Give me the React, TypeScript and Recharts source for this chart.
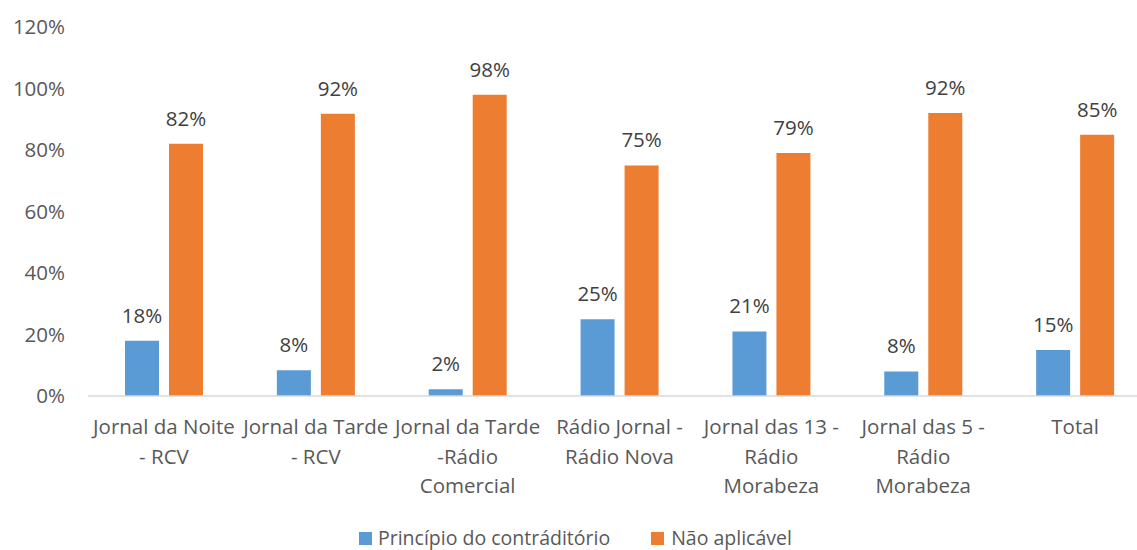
import React from "react";
import { BarChart, Bar, XAxis, YAxis, LabelList, Legend } from "recharts";

const categories = [
  "Jornal da Noite\n- RCV",
  "Jornal da Tarde\n- RCV",
  "Jornal da Tarde\n-Rádio\nComercial",
  "Rádio Jornal -\nRádio Nova",
  "Jornal das 13 -\nRádio\nMorabeza",
  "Jornal das 5 -\nRádio\nMorabeza",
  "Total",
];
const principio = [0.18, 0.084, 0.022, 0.25, 0.21, 0.08, 0.15];
const naoAplicavel = [0.82, 0.918, 0.98, 0.75, 0.79, 0.92, 0.85];
const yTicks = [0, 0.2, 0.4, 0.6, 0.8, 1.0, 1.2];
const seriesNames = ["Princípio do contráditório", "Não aplicável"];

const data = categories.map((c, i) => ({
  name: c,
  principio: principio[i],
  nao: naoAplicavel[i],
}));

const FONT = "'Open Sans', sans-serif";
const pct = (v: any) => `${Math.round(Number(v) * 100)}%`;

const CatTick = (props: any) => {
  const { x, y, payload } = props;
  const lines = String(payload.value).split("\n");
  return (
    <g transform={`translate(${x},${y})`}>
      {lines.map((l, i) => (
        <text
          key={i}
          x={0}
          y={30 + i * 29.5}
          textAnchor="middle"
          fill="#595959"
          fontSize={20.5}
          fontFamily={FONT}
        >
          {l}
        </text>
      ))}
    </g>
  );
};

const LegendContent = () => (
  <div
    style={{
      display: "flex",
      alignItems: "center",
      fontFamily: FONT,
      fontSize: 19.5,
      lineHeight: "24px",
      color: "#595959",
      height: 24,
      paddingLeft: 359,
      whiteSpace: "nowrap",
    }}
  >
    <span style={{ display: "inline-block", width: 13, height: 13, background: "#5B9BD5", marginRight: 6 }} />
    <span style={{ marginRight: 41 }}>{seriesNames[0]}</span>
    <span style={{ display: "inline-block", width: 13, height: 13, background: "#ED7D31", marginRight: 7 }} />
    <span>{seriesNames[1]}</span>
  </div>
);

export default function App() {
  return (
    <div
      style={{
        position: "absolute",
        left: 0,
        top: 0,
        width: 1137,
        height: 550,
        overflow: "hidden",
        background: "#fff",
      }}
    >
      <BarChart
        width={1160}
        height={550}
        data={data}
        margin={{ top: 27, right: 9, bottom: 0, left: 0 }}
        barGap={10}
      >
        <XAxis
          dataKey="name"
          interval={0}
          tick={<CatTick />}
          tickLine={false}
          axisLine={{ stroke: "#D9D9D9", strokeWidth: 1.5 }}
          height={130}
        />
        <YAxis
          domain={[0, 1.2]}
          ticks={yTicks}
          tickFormatter={pct}
          axisLine={false}
          tickLine={false}
          width={88}
          tickMargin={17}
          tick={{ fill: "#595959", fontSize: 20.5, fontFamily: FONT }}
        />
        <Legend
          verticalAlign="bottom"
          content={<LegendContent />}
          wrapperStyle={{ left: 0, width: 1137, bottom: 0 }}
        />
        <Bar dataKey="principio" name={seriesNames[0]} fill="#5B9BD5" barSize={34} isAnimationActive={false}>
          <LabelList
            dataKey="principio"
            position="top"
            offset={18}
            formatter={pct}
            style={{ fill: "#404040", fontSize: 20.5, fontFamily: FONT }}
          />
        </Bar>
        <Bar dataKey="nao" name={seriesNames[1]} fill="#ED7D31" barSize={34} isAnimationActive={false}>
          <LabelList
            dataKey="nao"
            position="top"
            offset={18}
            formatter={pct}
            style={{ fill: "#404040", fontSize: 20.5, fontFamily: FONT }}
          />
        </Bar>
      </BarChart>
    </div>
  );
}
